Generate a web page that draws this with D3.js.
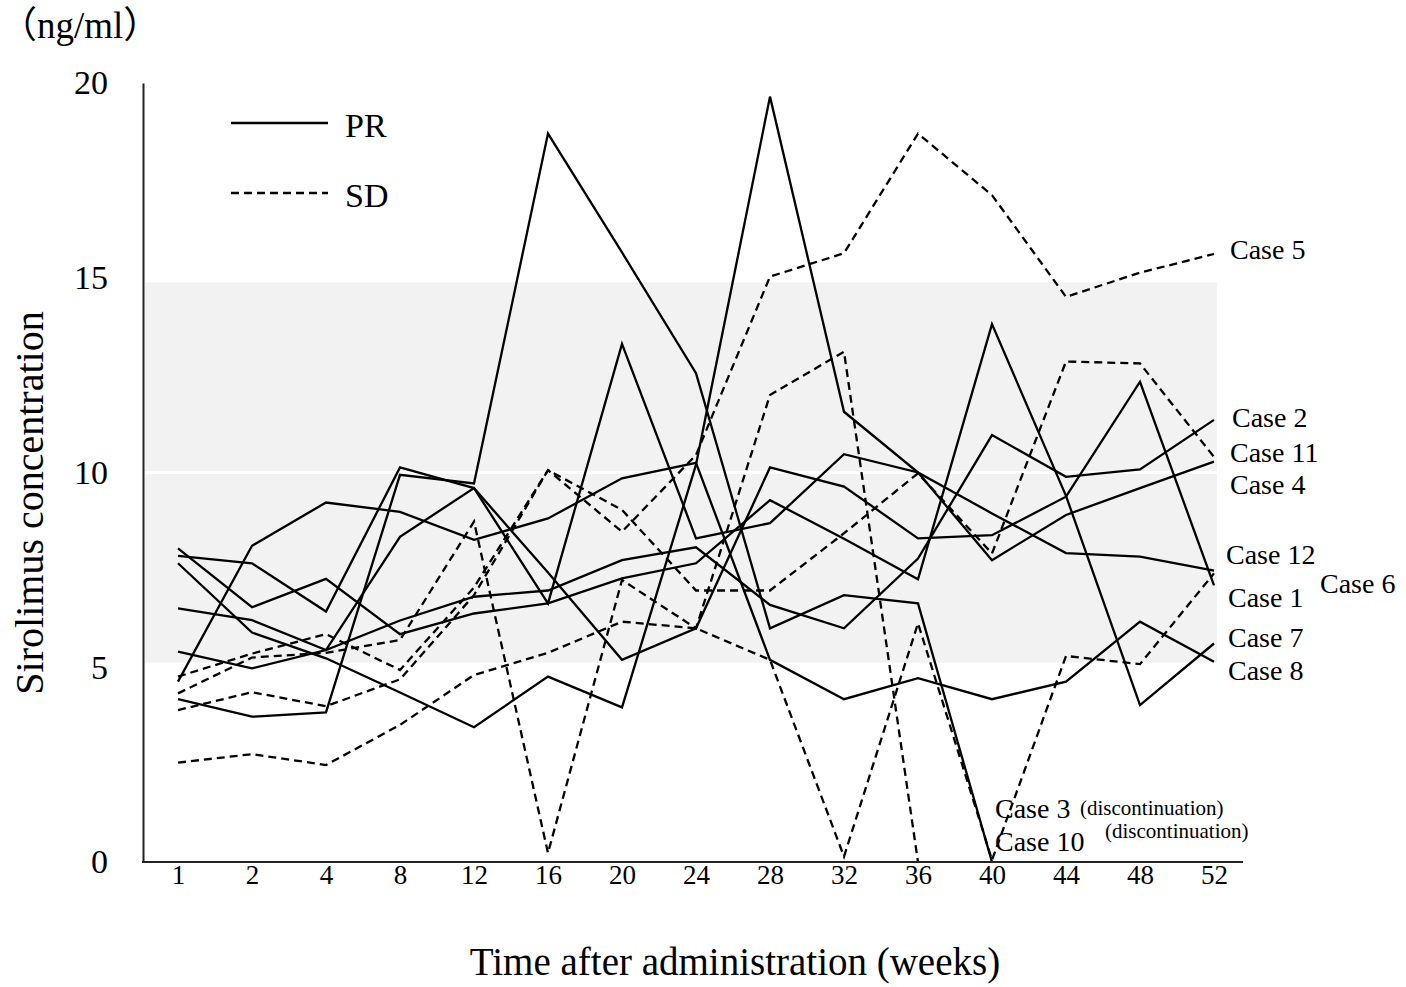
<!DOCTYPE html>
<html>
<head>
<meta charset="utf-8">
<script src="https://cdn.jsdelivr.net/npm/d3@7"></script>
<style>
  body { margin: 0; background: #fff; }
  svg text { font-family: "Liberation Serif", "Times New Roman", serif; fill: #000; }
</style>
</head>
<body>
<svg id="chart" width="1406" height="987"></svg>
<script>
// weeks after administration (x categories)
const weeks = [1, 2, 4, 8, 12, 16, 20, 24, 28, 32, 36, 40, 44, 48, 52];
const yTicks = [0, 5, 10, 15, 20];
// shaded target range (ng/ml)
const targetRange = [5.12, 14.88];

// PR cases (solid)
const case1 = [7.86, 7.67, 6.43, 10.13, 9.6, 7.43, 5.19, 6.0, 10.13, 9.64, 8.31, 8.39, 9.38, 12.33, 7.1];
const case2 = [6.51, 6.21, 5.44, 6.2, 6.81, 6.97, 7.75, 8.08, 6.6, 6.0, 7.79, 10.96, 9.89, 10.08, 11.35];
const case3 = [4.18, 3.73, 3.84, 9.94, 9.72, 18.7, 15.65, 12.55, 6.0, 6.85, 6.64, 0];
const case4 = [5.4, 4.97, 5.44, 8.35, 9.6, 6.64, 13.3, 8.31, 8.7, 10.47, 10.0, 7.75, 8.91, 9.6, 10.28];
const case7 = [8.05, 6.54, 7.27, 5.85, 6.38, 6.64, 7.28, 7.67, 9.29, 8.3, 7.26, 13.81, 9.4, 4.03, 5.61];
const case8 = [4.63, 8.12, 9.23, 8.99, 8.27, 8.82, 9.85, 10.25, 5.19, 4.18, 4.72, 4.18, 4.63, 6.17, 5.14];
const case12 = [7.67, 5.89, 5.23, 4.35, 3.46, 4.76, 3.97, 10.2, 19.65, 11.56, 10.0, 8.95, 7.93, 7.84, 7.48];

// SD cases (dashed)
const case5 = [4.76, 5.35, 5.85, 4.93, 7.05, 10.06, 8.48, 10.45, 15.03, 15.63, 18.7, 17.12, 14.51, 15.13, 15.61];
const case6 = [2.55, 2.77, 2.49, 3.52, 4.8, 5.37, 6.17, 6.0, 5.19, 0.14, 6.13, 0.05, 5.29, 5.08, 7.41];
const case10 = [4.33, 5.25, 5.37, 5.7, 8.74, 0.23, 7.24, 6.0, 11.99, 13.1, 0];
const case11 = [3.9, 4.36, 4.0, 4.69, 6.85, 10.06, 9.04, 6.97, 6.97, 8.44, 9.98, 7.92, 12.85, 12.8, 10.4];

const cases = [
  {name: 'Case 1', group: 'PR', values: case1},
  {name: 'Case 2', group: 'PR', values: case2},
  {name: 'Case 3', group: 'PR', values: case3},
  {name: 'Case 4', group: 'PR', values: case4},
  {name: 'Case 7', group: 'PR', values: case7},
  {name: 'Case 8', group: 'PR', values: case8},
  {name: 'Case 12', group: 'PR', values: case12},
  {name: 'Case 5', group: 'SD', values: case5},
  {name: 'Case 6', group: 'SD', values: case6},
  {name: 'Case 10', group: 'SD', values: case10},
  {name: 'Case 11', group: 'SD', values: case11}
];

const svg = d3.select('#chart');
const x = d3.scalePoint().domain(weeks).range([141, 1251]).padding(0.5);
const y = d3.scaleLinear().domain([0, 20]).range([862, 83]);
const left = 143, right = 1243;
const DASH = '8,5';

// target band + white grid line at 10
svg.append('rect')
  .attr('x', left + 2).attr('width', 1217 - left - 2)
  .attr('y', y(targetRange[1])).attr('height', y(targetRange[0]) - y(targetRange[1]))
  .style('fill', '#f2f2f2');
svg.append('line')
  .attr('x1', left + 2).attr('x2', 1217)
  .attr('y1', y(10)).attr('y2', y(10))
  .style('stroke', '#fff').style('stroke-width', 3);

// lines
const line = d3.line()
  .x((d, i) => x(weeks[i]))
  .y(d => y(d));

svg.append('g').selectAll('path.case')
  .data(cases)
  .enter()
  .append('path')
  .classed('case', true)
  .attr('d', d => line(d.values))
  .style('fill', 'none')
  .style('stroke', '#000')
  .style('stroke-width', 2.3)
  .style('stroke-linejoin', 'miter')
  .style('stroke-dasharray', d => d.group === 'SD' ? DASH : null);

// axes
const yAxis = svg.append('g')
  .attr('transform', `translate(${left},0)`)
  .call(d3.axisLeft(y).tickValues(yTicks).tickSize(0).tickPadding(35));
yAxis.select('.domain').style('stroke', '#222').style('stroke-width', 2);
yAxis.selectAll('text').style('font-size', '34px').style('font-family', '"Liberation Serif", serif');

const xAxis = svg.append('g')
  .attr('transform', `translate(0,${y(0)})`)
  .call(d3.axisBottom(x).tickSize(0).tickPadding(3));
xAxis.select('.domain').remove();
xAxis.selectAll('text').style('font-size', '27px').style('font-family', '"Liberation Serif", serif');
svg.append('line')
  .attr('x1', left - 1).attr('x2', right)
  .attr('y1', y(0)).attr('y2', y(0))
  .style('stroke', '#222').style('stroke-width', 2);

// titles
svg.append('text')
  .attr('x', 0).attr('y', 38)
  .style('font-size', '37px')
  .style('font-family', '"Liberation Serif", "Noto Sans CJK JP", serif')
  .text('（ng/ml）');
svg.append('text')
  .attr('x', 735).attr('y', 975)
  .attr('text-anchor', 'middle')
  .style('font-size', '39px')
  .text('Time after administration (weeks)');
svg.append('text')
  .attr('transform', 'translate(43,503) rotate(-90)')
  .attr('text-anchor', 'middle')
  .style('font-size', '40px')
  .text('Sirolimus concentration');

// legend
const legend = [
  {label: 'PR', dash: null, ly: 123},
  {label: 'SD', dash: DASH, ly: 193}
];
const lg = svg.append('g').selectAll('g')
  .data(legend)
  .enter()
  .append('g')
  .attr('transform', d => `translate(231,${d.ly})`);
lg.append('line')
  .attr('x1', 0).attr('x2', 97)
  .style('stroke', '#000').style('stroke-width', 2.3)
  .style('stroke-dasharray', d => d.dash);
lg.append('text')
  .attr('x', 114).attr('y', 14)
  .style('font-size', '34px')
  .text(d => d.label);

// case labels at line ends
const labelPos = {
  'Case 5': [1230, 259], 'Case 2': [1232, 427], 'Case 11': [1230, 462],
  'Case 4': [1230, 494], 'Case 12': [1226, 564], 'Case 6': [1320, 593],
  'Case 1': [1228, 607], 'Case 7': [1228, 647], 'Case 8': [1228, 680],
  'Case 3': [995, 818], 'Case 10': [995, 851]
};
const notes = {'Case 3': [1080, 815], 'Case 10': [1105, 838]};

const labels = svg.append('g').selectAll('g.lab')
  .data(cases)
  .enter()
  .append('g')
  .classed('lab', true);
labels.append('text')
  .attr('x', d => labelPos[d.name][0])
  .attr('y', d => labelPos[d.name][1])
  .style('font-size', '28px')
  .text(d => d.name);
labels.filter(d => notes[d.name])
  .append('text')
  .attr('x', d => notes[d.name][0])
  .attr('y', d => notes[d.name][1])
  .style('font-size', '21px')
  .text('(discontinuation)');
</script>
</body>
</html>
